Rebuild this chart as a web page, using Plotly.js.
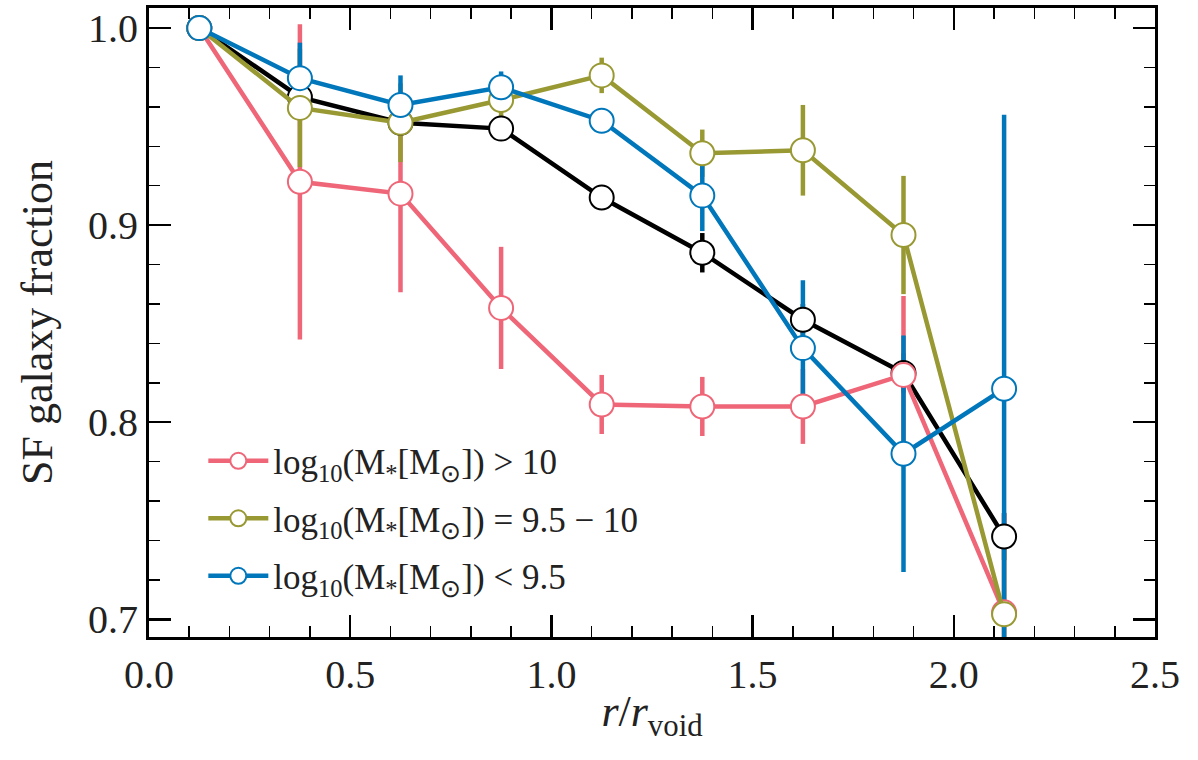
<!DOCTYPE html>
<html>
<head>
<meta charset="utf-8">
<script src="https://cdn.plot.ly/plotly-3.0.1.min.js"></script>
<style>
html,body{margin:0;padding:0;background:#fff;}
#chart{width:1198px;height:760px;}
</style>
</head>
<body>
<div id="chart"></div>
<script>
// Radial bin centres (r / r_void)
const rBins = [0.125, 0.375, 0.625, 0.875, 1.125, 1.375, 1.625, 1.875, 2.125];

// All galaxies (black)
const allFrac = [1.0, 0.965, 0.952, 0.949, 0.914, 0.886, 0.852, 0.825, 0.742];
const allErr  = [0.0, 0.006, 0.005, 0.005, 0.006, 0.010, 0.008, 0.010, 0.012];

// log10(M*) > 10 (pink)
const hiFrac = [1.0, 0.922, 0.916, 0.858, 0.809, 0.808, 0.808, 0.824, 0.7035];
const hiErr  = [0.0, 0.080, 0.050, 0.031, 0.015, 0.015, 0.019, 0.040, 0.050];

// log10(M*) = 9.5 - 10 (olive)
const midFrac = [1.0, 0.9595, 0.952, 0.9635, 0.976, 0.9365, 0.938, 0.895, 0.7025];
const midErr  = [0.0, 0.030, 0.020, 0.010, 0.009, 0.012, 0.023, 0.030, 0.040];

// log10(M*) < 9.5 (blue)
const loFrac = [1.0, 0.9746, 0.961, 0.970, 0.953, 0.915, 0.8376, 0.784, 0.817];
const loErr  = [0.0, 0.018, 0.015, 0.008, 0.006, 0.018, 0.0345, 0.060, 0.139];

const seriesNames = [
  'log<sub>10</sub>(M<sub>*</sub>[M<sub>⊙</sub>]) &gt; 10',
  'log<sub>10</sub>(M<sub>*</sub>[M<sub>⊙</sub>]) = 9.5 − 10',
  'log<sub>10</sub>(M<sub>*</sub>[M<sub>⊙</sub>]) &lt; 9.5'
];

const colBlack = '#000000';
const colPink = '#EE6677';
const colOlive = '#999933';
const colBlue = '#0077BB';

const series = [
  {y: allFrac, e: allErr, c: colBlack, name: 'All', legend: false, g: 'all'},
  {y: hiFrac, e: hiErr, c: colPink, name: seriesNames[0], legend: true, g: 'hi'},
  {y: midFrac, e: midErr, c: colOlive, name: seriesNames[1], legend: true, g: 'mid'},
  {y: loFrac, e: loErr, c: colBlue, name: seriesNames[2], legend: true, g: 'lo'}
];

const traces = [];
// error bars first (underneath all lines and markers)
series.forEach(s => {
  traces.push({
    x: rBins, y: s.y, type: 'scatter', mode: 'markers',
    marker: {size: 1, color: 'rgba(0,0,0,0)'},
    error_y: {type: 'data', array: s.e, visible: true, color: s.c, thickness: 4.5, width: 0},
    showlegend: false, hoverinfo: 'skip', legendgroup: s.g
  });
});
// lines + markers
series.forEach(s => {
  traces.push({
    x: rBins, y: s.y, type: 'scatter', mode: 'lines+markers',
    name: s.name, showlegend: s.legend, legendgroup: s.g,
    line: {color: s.c, width: 4.5},
    marker: {symbol: 'circle', size: 24, color: '#ffffff', line: {color: s.c, width: 2}}
  });
});

const fontFam = 'Liberation Serif';

const layout = {
  width: 1198, height: 760,
  margin: {l: 149, r: 43, t: 8, b: 123},
  paper_bgcolor: '#ffffff', plot_bgcolor: '#ffffff',
  font: {family: fontFam, color: '#000', size: 40},
  showlegend: true,
  legend: {
    x: 0.054, y: 0.05, xanchor: 'left', yanchor: 'bottom',
    bgcolor: 'rgba(255,255,255,0)', borderwidth: 0,
    font: {family: fontFam, size: 35, color: '#222'},
    tracegroupgap: 9, itemwidth: 60
  },
  xaxis: {
    range: [0, 2.5], dtick: 0.5, tick0: 0, tickformat: '.1f',
    ticks: 'inside', ticklen: 22, tickwidth: 2.5, tickcolor: '#000',
    minor: {dtick: 0.1, ticks: 'inside', ticklen: 11, tickwidth: 1.5, tickcolor: '#000'},
    showline: true, linewidth: 3, linecolor: '#000', mirror: 'allticks',
    showgrid: false, zeroline: false,
    tickfont: {family: fontFam, size: 40, color: '#222'},
    title: {text: '<i>r</i>/<i>r</i><sub>void</sub>', font: {family: fontFam, size: 44, color: '#222'}, standoff: 0}
  },
  yaxis: {
    range: [0.691, 1.0102], dtick: 0.1, tick0: 0.7, tickformat: '.1f',
    ticks: 'inside', ticklen: 22, tickwidth: 2.5, tickcolor: '#000',
    minor: {dtick: 0.02, ticks: 'inside', ticklen: 11, tickwidth: 1.5, tickcolor: '#000'},
    showline: true, linewidth: 3, linecolor: '#000', mirror: 'allticks',
    showgrid: false, zeroline: false,
    tickfont: {family: fontFam, size: 40, color: '#222'},
    title: {text: 'SF galaxy fraction', font: {family: fontFam, size: 44, color: '#222'}, standoff: 22}
  }
};

Plotly.newPlot('chart', traces, layout, {staticPlot: true, displayModeBar: false});
</script>
</body>
</html>
